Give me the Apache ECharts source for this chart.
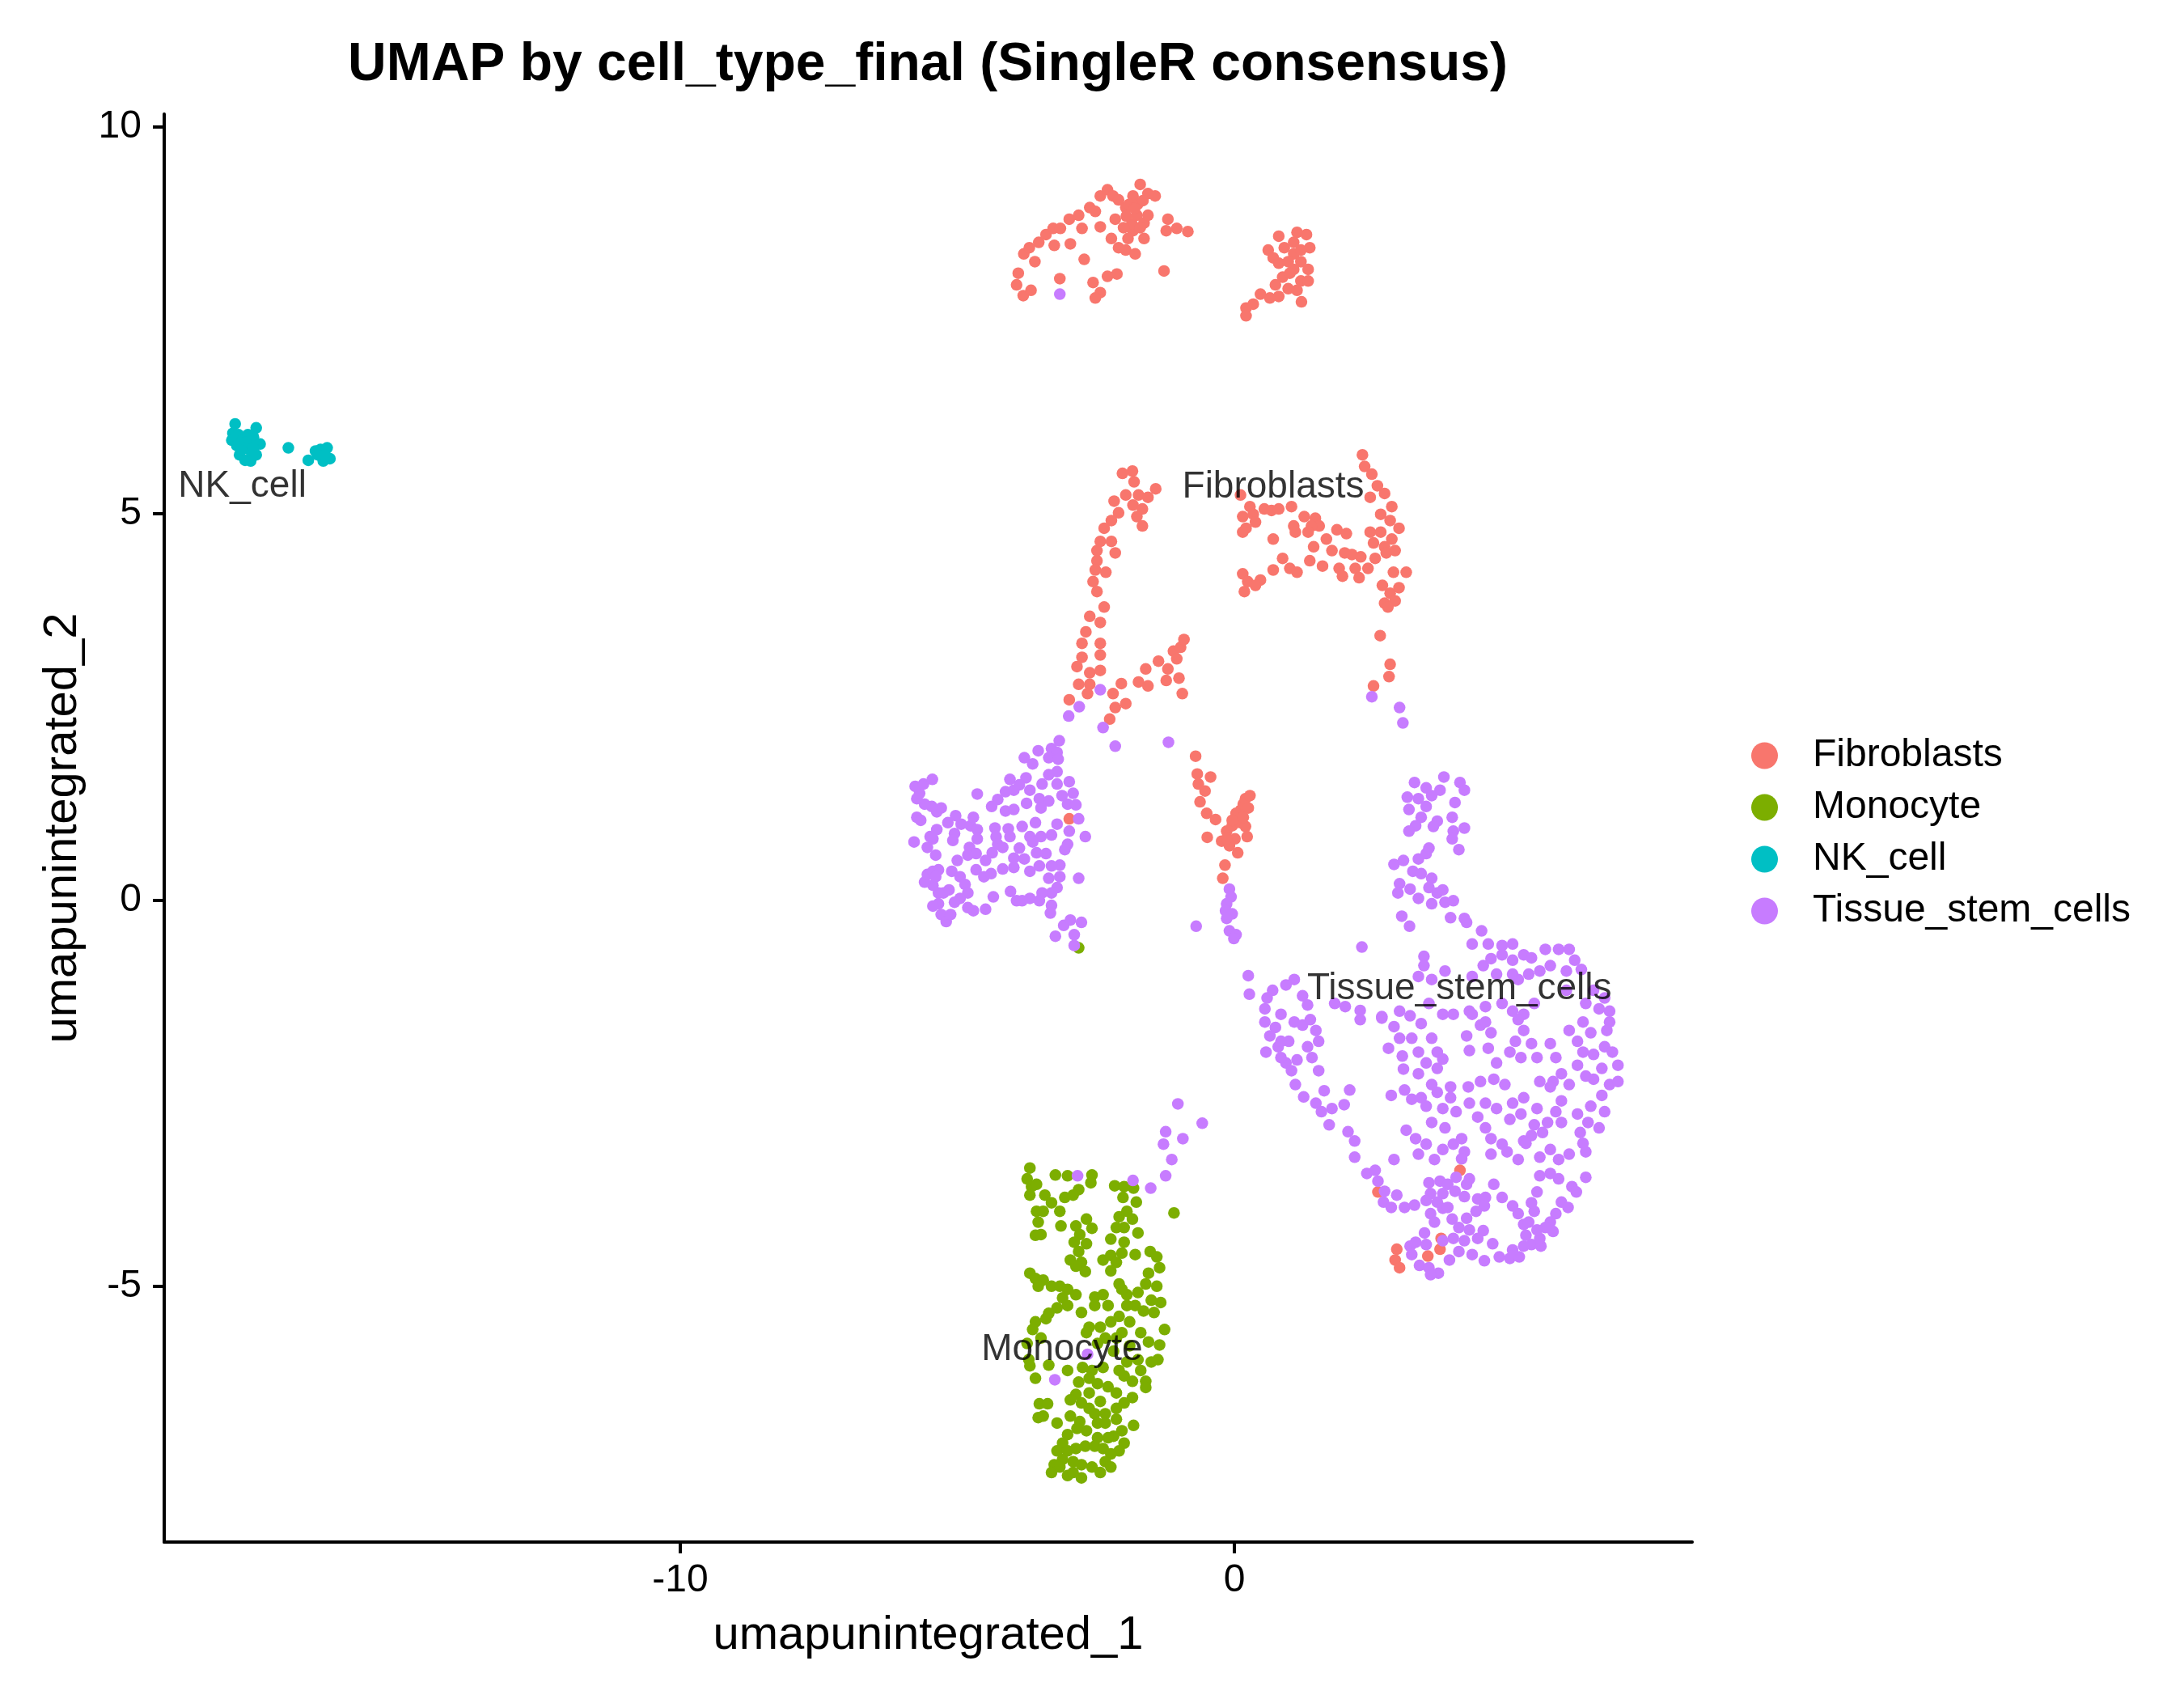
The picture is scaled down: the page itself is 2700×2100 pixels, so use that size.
<!DOCTYPE html>
<html>
<head>
<meta charset="utf-8">
<script src="https://cdn.jsdelivr.net/npm/echarts@6/dist/echarts.min.js"></script>
<style>
  html, body { margin: 0; padding: 0; background: #fff; }
  #chart { width: 2700px; height: 2100px; }
</style>
</head>
<body>
<div id="chart"></div>
<script>
// cell types and their ggplot colours
const cellTypes = ['Fibroblasts', 'Monocyte', 'NK_cell', 'Tissue_stem_cells'];
const typeColors = ['#F8766D', '#7CAE00', '#00BFC4', '#C77CFF'];

// axis ticks
const xTicks = [-10, 0];
const yTicks = [-5, 0, 5, 10];

// cluster labels (placed at the cluster label positions)
const labelNames = ['NK_cell', 'Fibroblasts', 'Tissue_stem_cells', 'Monocyte'];
const labelX = [-17.90, 0.70, 4.06, -3.11];
const labelY = [5.35, 5.34, -1.15, -5.82];

// UMAP coordinates, one list per cell type
const fibroblastsPts = [
  // top left island
  [-3.93,7.96],[-3.81,7.82],[-3.90,8.11],[-3.80,8.36],[-3.70,8.44],[-3.60,8.26],[-3.53,8.51],[-3.40,8.61],
  [-3.27,8.69],[-3.14,8.69],[-2.98,8.81],[-2.81,8.86],[-2.75,8.69],[-2.61,8.96],[-2.51,8.91],[-2.42,9.11],
  [-2.29,9.19],[-2.19,9.11],[-2.09,9.06],[-1.96,8.96],[-1.83,9.11],[-1.70,9.26],[-1.56,9.14],[-1.43,9.11],
  [-1.76,8.86],[-1.63,8.76],[-1.83,8.66],[-1.56,8.86],[-1.92,8.56],[-2.09,8.44],[-2.22,8.56],[-2.15,8.81],
  [-1.96,8.41],[-1.79,8.36],[-1.63,8.56],[-1.20,8.81],[-1.23,8.66],[-1.04,8.69],[-0.84,8.65],[-1.27,8.14],
  [-2.71,8.29],[-2.42,8.71],[-2.96,8.49],[-3.25,8.47],[-3.15,8.04],[-2.55,7.99],[-2.42,7.86],[-2.51,7.79],
  [-2.29,8.07],[-2.12,8.10],[-3.67,7.89],[-1.90,9.00],[-1.75,9.00],[-1.85,8.75],[-1.70,8.70],[-1.95,8.85],
  [-1.65,9.05],[-2.00,8.70],[-1.80,8.95],
  // top right island
  [0.80,8.59],[1.13,8.64],[1.30,8.61],[0.61,8.41],[0.70,8.31],[0.90,8.44],[1.07,8.36],[1.36,8.44],
  [0.80,8.24],[0.97,8.26],[1.20,8.26],[1.33,8.16],[1.07,8.16],[0.87,8.06],[0.74,7.96],[0.97,7.91],
  [1.20,8.01],[1.33,8.01],[0.80,7.81],[0.64,7.79],[0.47,7.84],[0.34,7.71],[0.21,7.66],[0.21,7.56],
  [1.21,7.74],[1.07,8.51],[1.20,8.41],[1.00,8.11],[1.13,7.89],
  // middle left arm
  [-2.02,5.52],[-1.84,5.55],[-1.81,5.41],[-2.17,5.16],[-1.96,5.24],[-1.73,5.24],[-1.56,5.21],[-1.42,5.32],
  [-1.83,5.11],[-1.66,5.06],[-1.76,4.96],[-2.09,5.01],[-2.22,4.91],[-2.35,4.81],[-1.66,4.84],[-2.42,4.64],
  [-2.22,4.64],[-2.48,4.52],[-2.15,4.49],[-2.48,4.39],[-2.51,4.27],[-2.32,4.24],[-2.55,4.12],[-2.48,3.99],
  [-2.35,3.79],[-2.61,3.67],[-2.42,3.59],[-2.68,3.47],[-2.75,3.32],[-2.42,3.32],[-2.42,3.17],[-2.75,3.14],
  [-2.84,3.02],[-2.61,2.94],[-2.42,2.97],[-2.81,2.79],[-2.61,2.79],[-2.98,2.59],[-2.65,2.67],[-2.19,2.67],
  [-2.15,2.49],[-1.96,2.54],[-2.04,2.80],[-2.25,2.34],[-1.73,2.82],[-1.56,2.77],[-1.60,2.99],[-1.37,3.09],
  [-1.23,2.84],[-1.20,2.99],[-1.10,3.22],[-0.97,3.27],[-0.91,3.37],[-1.00,2.87],[-0.94,2.67],[-1.04,3.12],
  // right strand
  [2.63,3.42],[2.81,3.05],[2.79,2.89],[2.51,2.77],
  // middle right block
  [0.11,5.24],[0.28,5.09],[0.15,4.96],[0.34,4.99],[0.54,5.06],[0.67,5.04],[0.21,4.81],[0.15,4.76],
  [0.38,4.89],[0.80,5.06],[1.03,5.09],[1.26,4.96],[1.46,4.94],[1.53,4.84],[1.07,4.84],[1.10,4.76],
  [1.39,4.84],[1.33,4.76],[0.70,4.67],[1.43,4.57],[1.66,4.67],[1.85,4.79],[2.02,4.74],[1.76,4.52],
  [1.99,4.49],[2.12,4.47],[2.28,4.44],[0.87,4.42],[1.00,4.29],[0.70,4.27],[1.13,4.24],[1.36,4.39],
  [1.59,4.32],[1.89,4.29],[1.95,4.19],[2.18,4.29],[2.25,4.17],[2.41,4.29],[2.54,4.42],[0.15,4.22],
  [0.24,4.12],[0.47,4.14],[0.18,3.99],[0.38,4.07],[2.31,5.76],[2.35,5.61],[2.48,5.51],[2.58,5.36],
  [2.45,5.21],[2.71,5.26],[2.84,5.09],[2.64,4.99],[2.81,4.91],[2.97,4.81],[2.45,4.76],[2.64,4.76],
  [2.84,4.67],[2.90,4.52],[2.71,4.57],[2.51,4.62],[2.74,4.49],[2.87,4.24],[3.10,4.24],[2.67,4.07],
  [2.81,3.97],[2.97,4.04],[2.71,3.84],[2.90,3.87],[2.77,3.79],
  // central strand
  [-0.70,1.86],[-0.67,1.63],[-0.65,1.50],[-0.43,1.59],[-0.53,1.41],[-0.62,1.27],[-0.50,1.12],[-0.34,1.04],
  [-0.49,0.81],[-0.23,0.76],[-0.14,0.89],[-0.04,0.96],[0.06,1.07],[0.11,1.16],[0.16,1.24],[0.20,1.31],
  [0.28,1.35],[0.25,1.19],[0.03,1.12],[0.11,1.00],[0.20,0.95],[0.23,0.82],[0.01,0.79],[-0.09,0.70],
  [0.06,0.61],[-0.17,0.45],[-0.21,0.28],[-0.04,1.03],[0.16,1.07],[-0.14,0.79],
  // strays among other clusters
  [-2.98,1.05],[2.93,-4.52],[2.90,-4.66],[2.98,-4.76],[3.73,-4.38],[3.71,-4.52],[3.49,-4.61],[2.59,-3.78],
  [4.07,-3.50]
];

const monocytePts = [
  [-3.69,-3.47],[-3.74,-3.61],[-3.66,-3.71],[-3.69,-3.82],[-3.57,-3.68],[-3.23,-3.56],[-3.01,-3.57],[-2.57,-3.56],
  [-2.59,-3.66],[-2.81,-3.75],[-2.91,-3.82],[-3.06,-3.85],[-3.42,-3.82],[-3.30,-3.92],[-3.15,-4.03],[-3.57,-4.03],
  [-3.45,-4.03],[-3.54,-4.17],[-3.13,-4.22],[-3.59,-4.34],[-3.49,-4.33],[-2.86,-4.22],[-2.67,-4.13],[-2.57,-4.25],
  [-2.79,-4.33],[-2.89,-4.43],[-2.67,-4.45],[-2.81,-4.55],[-2.96,-4.66],[-2.76,-4.69],[-2.69,-4.81],[-2.86,-4.74],
  [-2.16,-3.70],[-1.99,-3.71],[-1.82,-3.73],[-1.77,-3.91],[-2.01,-3.85],[-1.94,-4.03],[-1.84,-4.13],[-2.08,-4.10],
  [-2.13,-4.24],[-1.99,-4.24],[-1.74,-4.31],[-2.23,-4.39],[-1.99,-4.43],[-2.37,-4.66],[-2.23,-4.60],[-2.03,-4.57],
  [-1.79,-4.59],[-2.13,-4.69],[-2.23,-4.80],[-1.52,-4.55],[-1.40,-4.62],[-1.35,-4.76],[-1.55,-4.83],[-1.60,-4.97],
  [-1.40,-5.00],[-1.74,-5.08],[-1.94,-5.11],[-2.08,-4.97],[-2.03,-5.04],[-1.79,-5.25],[-1.94,-5.25],[-1.64,-5.32],
  [-1.45,-5.34],[-1.33,-5.21],[-1.50,-5.18],[-3.69,-4.83],[-3.59,-4.90],[-3.45,-4.92],[-3.54,-5.00],[-3.30,-5.00],
  [-3.15,-5.00],[-3.01,-5.04],[-2.86,-5.11],[-3.10,-5.15],[-3.01,-5.25],[-3.20,-5.28],[-3.35,-5.35],[-3.40,-5.42],
  [-3.59,-5.46],[-3.64,-5.56],[-3.49,-5.67],[-3.74,-5.74],[-3.71,-5.95],[-3.69,-6.03],[-3.59,-6.19],[-3.35,-6.02],
  [-3.01,-6.09],[-2.76,-5.34],[-2.52,-5.14],[-2.37,-5.11],[-2.28,-5.25],[-2.52,-5.25],[-2.62,-5.53],[-2.67,-5.60],
  [-2.42,-5.53],[-2.23,-5.46],[-2.08,-5.39],[-1.89,-5.46],[-1.69,-5.60],[-2.03,-5.60],[-2.33,-5.67],[-2.13,-5.67],
  [-2.47,-5.74],[-2.18,-5.84],[-1.89,-5.77],[-1.74,-5.95],[-1.55,-5.72],[-1.35,-5.76],[-1.26,-5.56],[-1.38,-5.95],
  [-1.50,-5.98],[-1.69,-6.09],[-1.94,-5.98],[-2.08,-6.09],[-1.99,-6.16],[-1.84,-6.23],[-1.60,-6.23],[-1.60,-6.31],
  [-2.37,-6.05],[-2.57,-6.09],[-2.74,-6.05],[-2.62,-6.19],[-2.47,-6.26],[-2.81,-6.24],[-2.28,-6.30],[-2.13,-6.38],
  [-2.62,-6.38],[-2.86,-6.40],[-2.96,-6.47],[-2.76,-6.51],[-2.42,-6.49],[-2.62,-6.58],[-2.52,-6.65],[-2.33,-6.65],
  [-2.13,-6.58],[-1.99,-6.51],[-1.84,-6.44],[-2.13,-6.72],[-1.82,-6.80],[-3.52,-6.52],[-3.37,-6.52],[-3.54,-6.70],
  [-3.45,-6.68],[-3.20,-6.77],[-2.96,-6.68],[-2.79,-6.75],[-2.47,-6.77],[-2.33,-6.77],[-2.03,-6.87],[-2.18,-6.94],
  [-1.99,-7.03],[-2.08,-7.13],[-2.28,-6.96],[-2.47,-6.96],[-2.67,-6.87],[-2.84,-6.84],[-3.01,-6.92],[-3.10,-7.03],
  [-3.20,-7.13],[-3.01,-7.13],[-2.86,-7.10],[-2.69,-7.07],[-2.52,-7.07],[-2.37,-7.10],[-2.23,-7.17],[-2.33,-7.27],
  [-2.23,-7.34],[-2.42,-7.41],[-2.57,-7.34],[-2.76,-7.31],[-2.91,-7.27],[-3.10,-7.24],[-3.25,-7.31],[-3.30,-7.41],
  [-3.01,-7.45],[-2.76,-7.48],[-2.91,-7.41],[-3.15,-7.34],
  // strays
  [-1.09,-4.05],[-2.81,-0.62]
];

const nkPts = [
  [-18.03,6.16],[-18.07,6.04],[-17.97,6.02],[-18.09,5.95],[-18.00,5.88],[-17.90,5.95],[-17.80,6.02],[-17.65,6.11],
  [-17.70,5.99],[-17.58,5.90],[-17.85,5.85],[-17.75,5.81],[-17.95,5.76],[-17.65,5.76],[-17.85,5.69],[-17.75,5.68],
  [-17.85,5.92],[-17.78,5.88],[-17.92,5.82],[-17.70,5.85],
  [-17.07,5.85],[-16.71,5.69],[-16.58,5.81],[-16.49,5.83],[-16.37,5.85],[-16.44,5.68],[-16.32,5.71],[-16.54,5.76],
  [-16.41,5.76]
];

const tissuePts = [
  // left block
  [-3.16,2.06],[-3.54,1.93],[-3.30,1.96],[-3.20,1.91],[-3.35,1.84],[-3.18,1.82],[-3.79,1.84],[-3.64,1.76],
  [-3.20,1.66],[-3.35,1.62],[-4.05,1.56],[-3.76,1.58],[-3.88,1.49],[-3.69,1.42],[-3.47,1.50],[-3.20,1.50],
  [-2.98,1.53],[-4.13,1.40],[-3.98,1.42],[-4.64,1.37],[-4.27,1.30],[-4.38,1.21],[-3.75,1.25],[-3.52,1.31],
  [-3.35,1.28],[-3.11,1.35],[-2.91,1.38],[-3.01,1.24],[-2.86,1.23],[-3.49,1.19],[-4.13,1.15],[-3.98,1.17],
  [-3.59,1.00],[-3.83,0.95],[-4.08,0.92],[-4.32,0.93],[-4.30,0.82],[-4.05,0.82],[-3.69,0.82],[-3.49,0.82],
  [-3.30,0.84],[-3.20,0.98],[-2.98,0.89],[-2.81,1.05],[-2.69,0.82],[-3.01,0.72],[-3.06,0.65],[-3.64,0.75],
  [-3.88,0.67],[-4.27,0.72],[-4.37,0.61],[-4.18,0.68],[-3.98,0.54],[-3.79,0.53],[-3.57,0.61],[-3.40,0.60],
  [-3.15,0.45],[-3.30,0.44],[-3.52,0.44],[-3.69,0.37],[-3.98,0.42],[-4.18,0.40],[-4.49,0.51],[-4.66,0.39],
  [-4.52,0.30],[-4.39,0.34],[-3.35,0.28],[-3.15,0.30],[-3.20,0.16],[-3.30,0.09],[-3.47,0.09],[-3.52,-0.01],
  [-3.69,0.02],[-3.83,-0.01],[-3.93,-0.01],[-4.04,0.11],[-4.35,0.04],[-4.49,-0.12],[-4.71,-0.14],[-4.81,-0.10],
  [-5.00,0.51],[-5.10,0.37],[-4.95,0.30],[-4.86,0.20],[-4.81,0.09],[-4.95,0.02],[-5.05,-0.03],[-5.15,0.13],
  [-5.25,0.09],[-5.34,-0.05],[-5.44,-0.08],[-5.29,-0.19],[-5.20,-0.28],[-5.12,-0.19],[-5.34,0.09],[-5.44,0.19],
  [-5.59,0.23],[-5.54,0.33],[-5.34,0.39],[-5.44,0.37],[-5.39,0.30],[-5.39,0.58],[-5.54,0.68],[-5.44,0.79],
  [-5.37,0.91],[-5.17,1.00],[-5.03,1.09],[-4.93,0.98],[-5.05,0.86],[-5.08,0.77],[-4.76,0.96],[-4.71,1.07],
  [-4.64,0.91],[-4.64,0.79],[-4.78,0.68],[-4.81,0.58],[-4.66,0.60],[-5.73,1.07],[-5.66,1.03],[-5.78,0.75],
  [-5.49,0.82],[-5.37,1.14],[-5.29,1.19],[-5.46,1.21],[-5.59,1.24],[-5.73,1.31],[-5.68,1.38],[-5.76,1.47],
  [-5.61,1.50],[-5.45,1.56],[-3.30,-0.07],[-3.32,-0.17],[-3.08,-0.33],[-2.96,-0.26],[-2.76,-0.29],[-2.89,-0.45],
  [-3.23,-0.47],[-2.81,0.28],[-2.89,-0.59],
  // scattered between clusters
  [-2.99,2.38],[-2.80,2.50],[-2.37,2.23],[-2.15,1.99],[-1.19,2.04],[-2.42,2.72],[-0.69,-0.34],[-1.02,-2.64],
  [0.25,-0.98],[0.27,-1.22],[2.48,2.63],[2.98,2.49],[3.04,2.29],[-3.15,7.84],
  [-0.09,0.14],[-0.06,0.04],[-0.14,-0.05],[-0.16,-0.14],[-0.04,-0.18],[-0.14,-0.24],[-0.09,-0.40],[0.03,-0.45],
  [-0.01,-0.50],
  [-0.58,-2.89],[-1.24,-3.00],[-0.93,-3.09],[-1.28,-3.16],[-1.13,-3.36],[-1.24,-3.57],
  [-2.83,-3.57],[-1.83,-3.63],[-1.51,-3.73],[-2.65,-5.88],[-3.24,-6.21],
  // right protrusion
  [3.78,1.59],[3.25,1.52],[3.46,1.45],[3.71,1.42],[4.07,1.52],[4.15,1.42],[3.12,1.33],[3.32,1.31],
  [3.56,1.35],[3.98,1.26],[3.15,1.17],[3.46,1.21],[3.37,1.07],[3.66,1.02],[3.93,1.07],[3.27,0.96],
  [3.15,0.89],[3.59,0.95],[3.95,0.89],[4.15,0.93],[3.93,0.79],[4.05,0.65],[3.51,0.67],[2.88,0.46],
  [3.05,0.51],[3.32,0.53],[3.46,0.60],[3.22,0.37],[3.37,0.34],[2.98,0.21],[3.56,0.28],[2.95,0.09],
  [3.17,0.14],[3.32,0.02],[3.51,0.16],[3.66,0.09],[3.76,0.13],[3.56,-0.05],[3.80,-0.03],[3.95,-0.01],
  [3.02,-0.21],[3.16,-0.34],[3.90,-0.23],[4.15,-0.24],[4.19,-0.29],[4.46,-0.40],[4.29,-0.57],[4.58,-0.57],
  [4.83,-0.59],[5.02,-0.57],[2.30,-0.61],
  // right main body, upper rows
  [3.42,-0.73],[3.42,-0.85],[3.32,-0.99],[3.56,-1.03],[3.80,-0.92],[4.29,-0.99],[4.49,-0.85],[4.63,-0.76],
  [4.83,-0.71],[5.02,-0.78],[5.22,-0.71],[5.36,-0.75],[5.61,-0.64],[5.85,-0.64],[6.04,-0.64],[6.14,-0.78],
  [5.70,-0.85],[5.51,-0.92],[5.99,-0.92],[6.26,-0.90],[5.31,-0.96],[5.12,-1.03],[4.73,-0.96],[5.02,-0.96],
  [1.08,-1.03],[0.93,-1.10],[0.69,-1.17],[0.59,-1.27],[1.23,-1.24],[0.55,-1.41],[1.32,-1.36],[1.81,-1.34],
  [2.00,-1.38],[2.27,-1.43],[2.66,-1.51],[2.98,-1.44],[3.17,-1.50],[3.51,-1.34],[3.76,-1.48],[3.95,-1.48],
  [4.24,-1.44],[4.53,-1.38],[4.83,-1.34],[5.02,-1.44],[5.22,-1.48],[5.41,-1.34],[6.34,-1.34],[6.58,-1.41],
  [6.77,-1.44],[6.68,-1.27],[5.99,-1.17],[6.48,-1.17],
  // left ring
  [0.55,-1.58],[0.74,-1.65],[0.84,-1.48],[0.64,-1.76],[0.57,-1.97],[0.79,-1.90],[0.98,-1.83],[1.08,-1.58],
  [1.23,-1.62],[1.37,-1.55],[1.47,-1.69],[1.52,-1.83],[1.32,-1.90],[1.40,-2.04],[1.52,-2.21],[1.13,-2.07],
  [0.93,-2.11],[0.84,-2.04],[1.03,-2.21],[1.10,-2.39],[1.25,-2.55],[1.47,-2.63],[1.62,-2.47],[1.57,-2.74],
  [1.76,-2.70],[1.71,-2.91],[2.08,-2.46],[1.98,-2.65],[2.05,-3.00],[2.17,-3.12],[2.17,-3.33],[0.84,-1.83],
  // centre of the body
  [2.27,-1.55],[2.66,-1.53],[2.88,-1.64],[2.98,-1.79],[3.20,-1.79],[3.37,-1.60],[3.56,-1.79],[2.78,-1.92],
  [3.03,-2.02],[3.32,-1.97],[3.66,-1.97],[3.76,-2.06],[3.46,-2.11],[3.05,-2.19],[3.32,-2.25],[3.66,-2.18],
  [3.56,-2.39],[3.07,-2.46],[2.83,-2.53],[3.20,-2.58],[3.37,-2.56],[3.66,-2.49],[3.90,-2.42],[3.90,-2.56],
  [3.46,-2.67],[3.76,-2.70],[4.00,-2.74],[4.22,-2.42],[4.44,-2.35],[4.24,-2.63],[3.56,-2.88],[3.80,-2.95],
  [3.10,-2.98],[3.27,-3.09],[3.46,-3.16],[3.76,-3.23],[3.95,-3.16],[4.10,-3.09],[4.15,-3.26],[3.32,-3.29],
  [2.88,-3.36],[3.61,-3.36],[4.10,-3.35],[4.19,-1.76],[4.44,-1.62],[4.63,-1.72],[4.58,-1.92],[4.24,-1.95],
  [4.73,-2.11],[4.97,-1.97],[4.88,-2.39],[4.68,-2.32],[4.53,-2.63],[4.73,-2.70],[4.39,-2.81],[4.53,-2.95],
  [4.63,-3.09],[5.02,-2.63],[4.97,-2.84],[5.17,-2.77],[4.83,-3.16],[4.63,-3.29],[4.92,-3.26],[5.12,-3.36],
  [5.22,-3.12],[5.36,-3.05],[4.29,-1.48],[4.53,-1.58],
  // right side of the body
  [5.12,-1.55],[5.22,-1.69],[5.07,-1.83],[5.36,-1.86],[5.17,-2.04],[5.46,-2.04],[5.70,-1.86],[5.80,-2.04],
  [6.04,-1.69],[6.29,-1.58],[6.43,-1.72],[6.19,-1.83],[6.29,-1.97],[6.48,-2.00],[6.68,-1.90],[6.82,-1.97],
  [6.77,-1.58],[6.72,-1.69],[6.92,-2.14],[6.63,-2.18],[6.48,-2.32],[6.77,-2.39],[6.92,-2.35],[6.19,-2.14],
  [5.90,-2.25],[5.75,-2.35],[5.51,-2.35],[5.70,-2.42],[6.04,-2.39],[6.34,-2.28],[5.90,-2.60],[5.80,-2.74],
  [5.65,-2.88],[5.56,-3.01],[5.90,-2.88],[6.19,-2.77],[6.43,-2.67],[6.68,-2.74],[6.63,-2.53],[6.38,-2.88],
  [6.58,-2.95],[6.24,-3.01],[6.29,-3.15],[6.04,-3.29],[6.34,-3.26],[5.70,-3.23],[5.51,-3.33],[5.85,-3.36],
  [5.26,-3.15],[5.41,-2.91],[5.22,-2.56],[5.46,-2.70],
  // lower part of the body
  [2.39,-3.54],[2.54,-3.50],[2.59,-3.64],[2.71,-3.77],[2.93,-3.82],[2.69,-3.91],[2.83,-3.98],[3.07,-3.98],
  [3.25,-3.95],[3.51,-3.66],[3.71,-3.64],[3.85,-3.68],[3.98,-3.77],[3.54,-3.80],[3.76,-3.80],[3.46,-3.89],
  [3.66,-3.91],[4.15,-3.84],[4.19,-3.68],[4.24,-3.61],[4.00,-3.59],[4.39,-3.87],[4.53,-3.85],[4.51,-3.96],
  [4.36,-4.03],[3.54,-4.06],[3.76,-3.99],[3.85,-3.98],[3.61,-4.17],[3.93,-4.13],[4.19,-4.12],[4.05,-4.24],
  [4.24,-4.27],[4.49,-4.28],[4.39,-4.38],[4.15,-4.41],[3.95,-4.38],[3.76,-4.41],[3.43,-4.31],[3.17,-4.48],
  [3.27,-4.43],[3.46,-4.46],[3.20,-4.59],[3.34,-4.73],[3.51,-4.76],[3.68,-4.83],[3.54,-4.85],[3.88,-4.66],
  [4.05,-4.55],[4.29,-4.59],[4.51,-4.67],[4.66,-4.45],[4.78,-4.62],[4.97,-4.64],[5.14,-4.62],[5.02,-4.53],
  [5.22,-4.48],[5.36,-4.46],[5.53,-4.48],[5.51,-4.38],[5.26,-4.34],[5.22,-4.20],[5.12,-4.06],[5.02,-3.96],
  [5.31,-4.17],[5.41,-4.03],[5.36,-3.92],[5.46,-3.78],[5.51,-3.57],[5.70,-3.54],[5.85,-3.61],[6.09,-3.71],
  [6.17,-3.78],[6.34,-3.59],[5.90,-3.91],[6.02,-3.98],[5.80,-4.06],[5.70,-4.17],[5.75,-4.29],[5.61,-4.24],
  [5.46,-4.27],[4.68,-3.68],[4.83,-3.85]
];

const seriesPts = [fibroblastsPts, monocytePts, nkPts, tissuePts];

const FONT = '"Liberation Sans", Arial, Helvetica, sans-serif';

const chart = echarts.init(document.getElementById('chart'), null, { renderer: 'canvas' });

const option = {
  animation: false,
  backgroundColor: '#ffffff',
  textStyle: { fontFamily: FONT },
  grid: { left: 203, right: 608, top: 141, bottom: 194, containLabel: false },
  graphic: [
    {
      type: 'text',
      x: 1147,
      y: 81,
      style: {
        text: 'UMAP by cell_type_final (SingleR consensus)',
        font: 'bold 66px ' + FONT,
        fill: '#000',
        textAlign: 'center',
        textVerticalAlign: 'middle'
      }
    }
  ],
  legend: {
    data: cellTypes,
    orient: 'vertical',
    left: 2160,
    top: 905,
    icon: 'circle',
    itemWidth: 33,
    itemHeight: 33,
    itemGap: 16,
    textStyle: { fontSize: 48, lineHeight: 48, color: '#000', fontFamily: FONT, padding: [0, 0, 0, 38] }
  },
  xAxis: {
    type: 'value',
    min: -19.31,
    max: 8.26,
    name: 'umapunintegrated_1',
    nameLocation: 'middle',
    nameGap: 87,
    nameTextStyle: { fontSize: 58, color: '#000', fontFamily: FONT },
    splitLine: { show: false },
    axisLine: { onZero: false, lineStyle: { color: '#000', width: 4 } },
    axisTick: { customValues: xTicks, length: 14, lineStyle: { color: '#000', width: 4 } },
    axisLabel: { customValues: xTicks, fontSize: 48, color: '#000', margin: 24, fontFamily: FONT }
  },
  yAxis: {
    type: 'value',
    min: -8.31,
    max: 10.17,
    name: 'umapunintegrated_2',
    nameLocation: 'middle',
    nameGap: 96,
    nameRotate: 90,
    nameTextStyle: { fontSize: 58, color: '#000', fontFamily: FONT },
    splitLine: { show: false },
    axisLine: { onZero: false, lineStyle: { color: '#000', width: 4 } },
    axisTick: { customValues: yTicks, length: 14, lineStyle: { color: '#000', width: 4 } },
    axisLabel: { customValues: yTicks, fontSize: 48, color: '#000', margin: 28, fontFamily: FONT }
  },
  series: cellTypes.map((name, i) => ({
    name: name,
    type: 'scatter',
    symbol: 'circle',
    symbolSize: 14.5,
    itemStyle: { color: typeColors[i], opacity: 1 },
    emphasis: { disabled: true },
    data: seriesPts[i]
  })).concat([{
    // text labels on the clusters
    name: 'cluster labels',
    type: 'scatter',
    symbolSize: 0,
    silent: true,
    z: 10,
    label: {
      show: true,
      position: 'inside',
      formatter: '{b}',
      fontSize: 46,
      color: '#000',
      textBorderWidth: 0,
      fontFamily: FONT
    },
    data: labelNames.map((n, i) => ({ name: n, value: [labelX[i], labelY[i]] }))
  }])
};

chart.setOption(option);
</script>
</body>
</html>
